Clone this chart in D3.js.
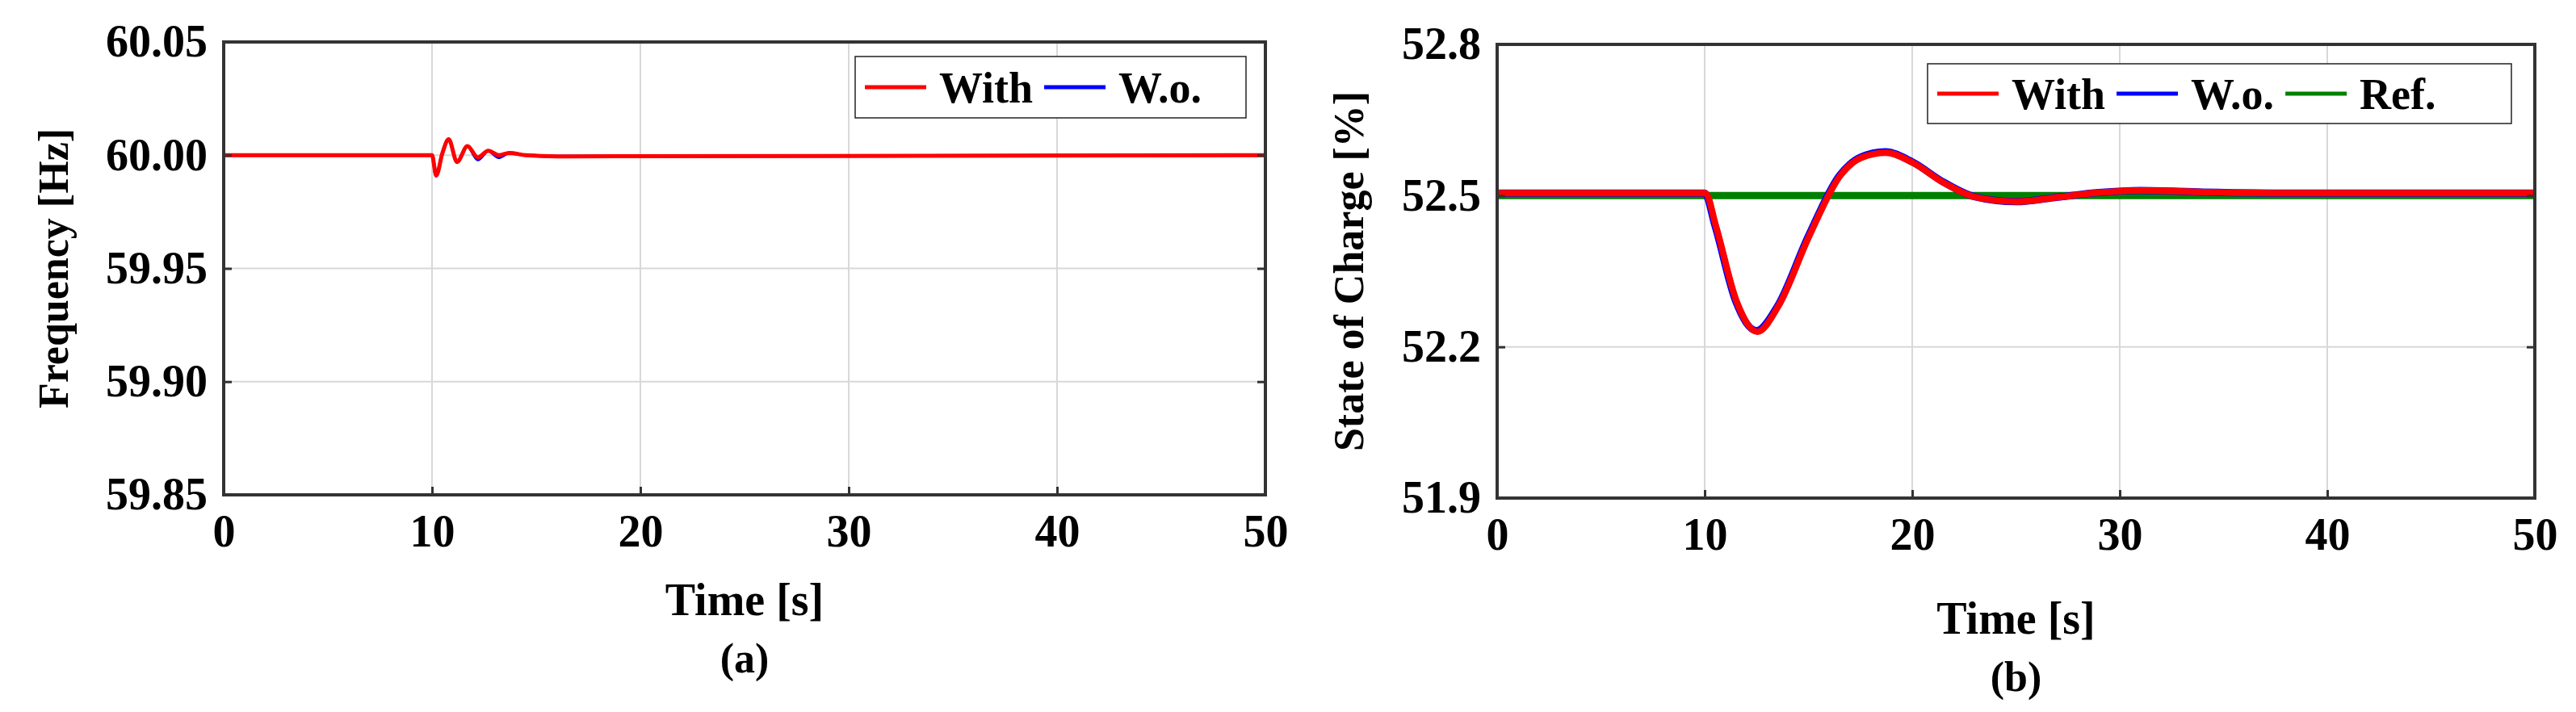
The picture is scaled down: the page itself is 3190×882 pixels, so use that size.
<!DOCTYPE html>
<html><head><meta charset="utf-8">
<script src="https://cdn.jsdelivr.net/npm/d3@7"></script>
<style>body{margin:0;background:#fff}text{font-family:"Liberation Serif",serif}</style>
</head><body><svg width="3190" height="882"></svg>
<script>
var xTicks = [0, 10, 20, 30, 40, 50];
var freqTicks = [59.85, 59.90, 59.95, 60.00, 60.05];
var socTicks = [51.9, 52.2, 52.5, 52.8];

var freqT   = [0, 10, 10.2, 10.5, 10.8, 11.2, 11.7, 12.2, 12.7, 13.2, 13.7, 14.5, 16, 50];
var freqWith= [60, 60, 59.991, 60.001, 60.007, 59.997, 60.004, 59.999, 60.002, 60.000, 60.001, 60, 59.9995, 60];
var freqWo  = [60, 60, 59.991, 60.001, 60.007, 59.997, 60.004, 59.998, 60.002, 59.999, 60.001, 60, 59.9995, 60];

var socT    = [0, 10, 10.5, 11.5, 12.5, 13.5, 15, 16.5, 17.5, 18.7, 20, 21.5, 23, 25, 27, 29, 31, 34, 38, 50];
var socWith = [52.505, 52.505, 52.44, 52.29, 52.23, 52.28, 52.42, 52.54, 52.575, 52.585, 52.565, 52.525, 52.497, 52.488, 52.497, 52.506, 52.510, 52.507, 52.505, 52.505];
var socWo   = [52.505, 52.505, 52.44, 52.29, 52.232, 52.28, 52.42, 52.54, 52.576, 52.587, 52.567, 52.527, 52.498, 52.488, 52.497, 52.506, 52.510, 52.507, 52.505, 52.505];
var socRef  = [52.5, 52.5];
var refT    = [0, 50];

var svg = d3.select("svg");

function panel(o) {
  var x = d3.scaleLinear().domain([0, 50]).range([o.x0, o.x1]);
  var y = d3.scaleLinear().domain(o.yDomain).range([o.y1, o.y0]);
  var g = svg.append("g");

  // grid
  g.selectAll(".gx").data(xTicks.slice(1, -1)).enter().append("line")
    .attr("x1", d => x(d)).attr("x2", d => x(d)).attr("y1", o.y0).attr("y2", o.y1)
    .attr("stroke", "#d8d8d8").attr("stroke-width", 2);
  g.selectAll(".gy").data(o.yTicks.slice(1, -1)).enter().append("line")
    .attr("x1", o.x0).attr("x2", o.x1).attr("y1", d => y(d)).attr("y2", d => y(d))
    .attr("stroke", "#d8d8d8").attr("stroke-width", 2);

  var line = d3.line().x(d => x(d[0])).y(d => y(d[1])).curve(d3.curveMonotoneX);
  o.series.forEach(function(s) {
    g.append("path").datum(d3.zip(s.t, s.v)).attr("d", line)
      .attr("fill", "none").attr("stroke", s.color).attr("stroke-width", s.w);
  });

  g.append("rect").attr("x", o.x0).attr("y", o.y0).attr("width", o.x1 - o.x0).attr("height", o.y1 - o.y0)
    .attr("fill", "none").attr("stroke", "#333").attr("stroke-width", 4);

  g.append("g").attr("transform", "translate(0," + o.y1 + ")")
    .call(d3.axisBottom(x).tickValues(xTicks).tickSize(-10).tickPadding(24).tickFormat(d3.format("d")))
    .call(a => a.select(".domain").remove());
  g.append("g").attr("transform", "translate(" + o.x0 + ",0)")
    .call(d3.axisLeft(y).tickValues(o.yTicks).tickSize(-10).tickPadding(20).tickFormat(d3.format(o.fmt)))
    .call(a => a.select(".domain").remove());
  g.append("g").attr("transform", "translate(" + o.x1 + ",0)")
    .call(d3.axisRight(y).tickValues(o.yTicks).tickSize(-10).tickFormat(""))
    .call(a => a.select(".domain").remove());
  g.selectAll(".tick line").attr("stroke", "#333").attr("stroke-width", 3);
  g.selectAll(".tick text").attr("font-size", 56).attr("font-weight", "bold").attr("fill", "#000")
    .attr("font-family", "Liberation Serif").style("font-family", "Liberation Serif");

  g.append("text").attr("x", (o.x0 + o.x1) / 2).attr("y", o.titleY).attr("text-anchor", "middle")
    .attr("font-size", 56).attr("font-weight", "bold").text("Time [s]");
  g.append("text").attr("x", (o.x0 + o.x1) / 2).attr("y", o.tagY).attr("text-anchor", "middle")
    .attr("font-size", 52).attr("font-weight", "bold").text(o.tag);
  g.append("text").attr("transform", "translate(" + o.ylx + "," + (o.y0 + o.y1) / 2 + ") rotate(-90)")
    .attr("text-anchor", "middle").attr("dy", "0.35em")
    .attr("font-size", 52).attr("font-weight", "bold").text(o.ylabel);

  // legend
  var L = o.legend;
  g.append("rect").attr("x", L.x).attr("y", L.y).attr("width", L.w).attr("height", L.h)
    .attr("fill", "#fff").attr("stroke", "#222").attr("stroke-width", 1.5);
  var cx = L.x + 12;
  L.items.forEach(function(it) {
    g.append("line").attr("x1", cx).attr("x2", cx + 76).attr("y1", L.y + L.h / 2).attr("y2", L.y + L.h / 2)
      .attr("stroke", it.color).attr("stroke-width", 5);
    var t = g.append("text").attr("x", cx + 92).attr("y", L.y + L.h / 2).attr("dy", "0.35em")
      .attr("font-size", 54).attr("font-weight", "bold").text(it.name);
    cx += 92 + t.node().getComputedTextLength() + 14;
  });
}

panel({
  x0: 277, x1: 1567, y0: 52, y1: 613, yDomain: [59.85, 60.05], yTicks: freqTicks, fmt: ".2f",
  titleY: 762, tagY: 833, tag: "(a)", ylabel: "Frequency [Hz]", ylx: 66,
  series: [
    {t: freqT, v: freqWo, color: "#0000ff", w: 4},
    {t: freqT, v: freqWith, color: "#ff0000", w: 5}
  ],
  legend: {x: 1059, y: 70, w: 484, h: 76, items: [{name: "With", color: "#ff0000"}, {name: "W.o.", color: "#0000ff"}]}
});

panel({
  x0: 1854, x1: 3139, y0: 55, y1: 617, yDomain: [51.9, 52.8], yTicks: socTicks, fmt: ".1f",
  titleY: 785, tagY: 856, tag: "(b)", ylabel: "State of Charge [%]", ylx: 1670,
  series: [
    {t: refT, v: socRef, color: "#008000", w: 9},
    {t: socT, v: socWo, color: "#0000ff", w: 9},
    {t: socT.map(d => d + 0.04), v: socWith, color: "#ff0000", w: 8}
  ],
  legend: {x: 2387, y: 79, w: 723, h: 74, items: [{name: "With", color: "#ff0000"}, {name: "W.o.", color: "#0000ff"}, {name: "Ref.", color: "#008000"}]}
});
</script></body></html>
